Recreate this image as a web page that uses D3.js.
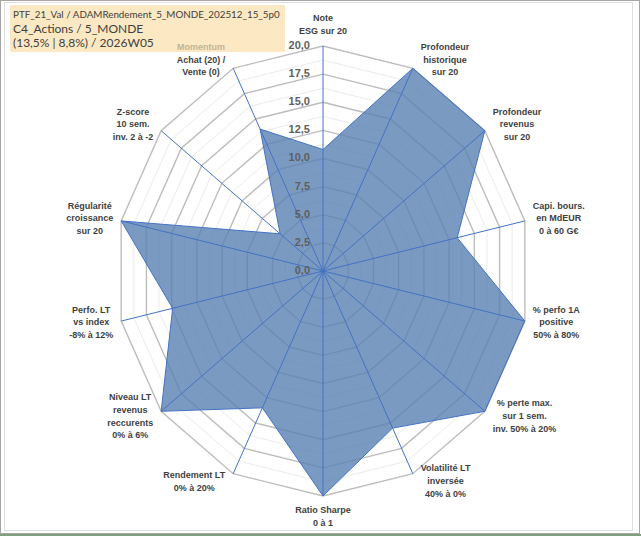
<!DOCTYPE html>
<html>
<head>
<meta charset="utf-8">
<script src="https://cdn.jsdelivr.net/npm/d3@7/dist/d3.min.js"></script>
<style>
  body { margin: 0; background: #fff; }
  svg { display: block; }
</style>
</head>
<body>
<svg id="chart" width="641" height="536" viewBox="0 0 641 536"></svg>
<script>
// axis labels, one entry per spoke (lines of each label)
const axisLabels = [
    ["Note", "ESG sur 20"],
    ["Profondeur", "historique", "sur 20"],
    ["Profondeur", "revenus", "sur 20"],
    ["Capi. bours.", "en MdEUR", "0 à 60 G€"],
    ["% perfo 1A", "positive", "50% à 80%"],
    ["% perte max.", "sur 1 sem.", "inv. 50% à 20%"],
    ["Volatilité LT", "inversée", "40% à 0%"],
    ["Ratio Sharpe", "0 à 1"],
    ["Rendement LT", "0% à 20%"],
    ["Niveau LT", "revenus", "reccurents", "0% à 6%"],
    ["Perfo. LT", "vs index", "-8% à 12%"],
    ["Régularité", "croissance", "sur 20"],
    ["Z-score", "10 sem.", "inv. 2 à -2"],
    ["Momentum", "Achat (20) /", "Vente (0)"]
];
// scores
const scores = [10.8, 20, 20, 13.3, 20, 20, 15.5, 20, 13.5, 20, 14.9, 20, 5.3, 14];
const majorTicks = [0, 2.5, 5, 7.5, 10, 12.5, 15, 17.5, 20];
const minorTicks = [1.25, 3.75, 6.25, 8.75, 11.25, 13.75, 16.25, 18.75];
const titleLines = [
    "PTF_21_Val / ADAMRendement_5_MONDE_202512_15_5p0",
    "C4_Actions / 5_MONDE",
    "(13,5% | 8,8%) / 2026W05"
];

const svg = d3.select("#chart");
const cx = 323, cy = 271;
const n = axisLabels.length;

// the picture is stretched a little vertically
const rx = d3.scaleLinear().domain([0, 20]).range([0, 207]);
const ry = d3.scaleLinear().domain([0, 20]).range([0, 225]);
const angle = d3.scaleLinear().domain([0, n]).range([0, 2 * Math.PI]);

function pt(i, v) {
    const a = angle(i);
    return [cx + rx(v) * Math.sin(a), cy - ry(v) * Math.cos(a)];
}
function ring(v) {
    return d3.range(n).map(i => pt(i, v));
}
const closed = d3.line().curve(d3.curveLinearClosed);

// frame
svg.append("rect").attr("x", 0.5).attr("y", 0.5).attr("width", 639).attr("height", 533)
    .attr("fill", "#fff").attr("stroke", "#a6a6a6");
svg.append("rect").attr("x", 4.5).attr("y", 2.5).attr("width", 628).attr("height", 528)
    .attr("fill", "none").attr("stroke", "#dedede");
svg.append("line").attr("x1", 0).attr("x2", 641).attr("y1", 535).attr("y2", 535)
    .attr("stroke", "#7fa07f").attr("stroke-width", 2);

// title box
const boxW = 275;
const title = svg.append("g");
title.append("rect").attr("x", 10).attr("y", 5).attr("width", boxW).attr("height", 47)
    .attr("fill", "#fce9c3");
title.selectAll("text")
    .data(titleLines)
    .enter()
    .append("text")
    .attr("x", 13)
    .attr("y", (d, i) => 16 + i * 13.8)
    .attr("dominant-baseline", "middle")
    .style("font-family", (d, i) => i === 0
        ? "'Liberation Sans Narrow', Lato, sans-serif"
        : "Lato, 'Liberation Sans', sans-serif")
    .style("font-size", "12px")
    .attr("fill", "#404040")
    .text(d => d)
    .each(function () {
        // shrink a line that would run out of the box
        const len = this.getComputedTextLength();
        if (len > boxW - 8) {
            d3.select(this).style("font-size", (12 * (boxW - 8) / len).toFixed(2) + "px");
        }
    });

// grid
const grid = svg.append("g");
grid.selectAll(".minor")
    .data(minorTicks)
    .enter()
    .append("path")
    .attr("d", d => closed(ring(d)))
    .attr("fill", "none")
    .attr("stroke", "#ececec")
    .attr("stroke-width", 1);
grid.selectAll(".major")
    .data(majorTicks.filter(d => d > 0))
    .enter()
    .append("path")
    .attr("d", d => closed(ring(d)))
    .attr("fill", "none")
    .attr("stroke", "#bdbdbd")
    .attr("stroke-width", 1.4);

// series area
svg.append("path")
    .attr("d", closed(scores.map((v, i) => pt(i, v))))
    .attr("fill", "#5981b3")
    .attr("fill-opacity", 0.8)
    .attr("stroke", "#4472c4")
    .attr("stroke-width", 1);

// spokes
svg.append("g").selectAll("line")
    .data(d3.range(n))
    .enter()
    .append("line")
    .attr("x1", cx).attr("y1", cy)
    .attr("x2", i => pt(i, 20)[0])
    .attr("y2", i => pt(i, 20)[1])
    .attr("stroke", "#4472c4")
    .attr("stroke-width", 1);

// radial tick labels
svg.append("g").selectAll("text")
    .data(majorTicks)
    .enter()
    .append("text")
    .attr("x", cx - 13)
    .attr("y", d => cy - ry(d))
    .attr("text-anchor", "end")
    .attr("dominant-baseline", "middle")
    .style("font-family", "'Liberation Sans', Arial, sans-serif")
    .style("font-size", "11px")
    .style("font-weight", "bold")
    .attr("fill", "#5f5f5f")
    .text(d => d3.format(".1f")(d).replace(".", ","));

// axis labels
const lineH = 12.8;
const labels = svg.append("g")
    .style("font-family", "'Liberation Sans', Arial, sans-serif")
    .style("font-size", "9px")
    .style("font-weight", "bold");

axisLabels.forEach((lines, i) => {
    const a = angle(i);
    const s = Math.sin(a), c = Math.cos(a);
    const [ox, oy] = pt(i, 20);
    const t = labels.append("text").attr("text-anchor", "middle");
    lines.forEach((l, k) => {
        t.append("tspan")
            .attr("dominant-baseline", "middle")
            .attr("fill", (i === 13 && k === 0) ? "#c3b394" : "#3f3f3f")
            .text(l);
    });
    const w = d3.max(t.selectAll("tspan").nodes(), nd => nd.getComputedTextLength());
    const h = lines.length * lineH;
    let bx, by;
    if (Math.abs(s) < 0.01) {
        bx = ox;
        by = oy - Math.sign(c) * (8 + h / 2);
    } else {
        bx = ox + Math.sign(s) * (8 + w / 2);
        by = oy - 9 * c;
    }
    t.selectAll("tspan")
        .attr("x", bx)
        .attr("y", (d, k) => by - h / 2 + lineH / 2 + k * lineH);
});
</script>
</body>
</html>
